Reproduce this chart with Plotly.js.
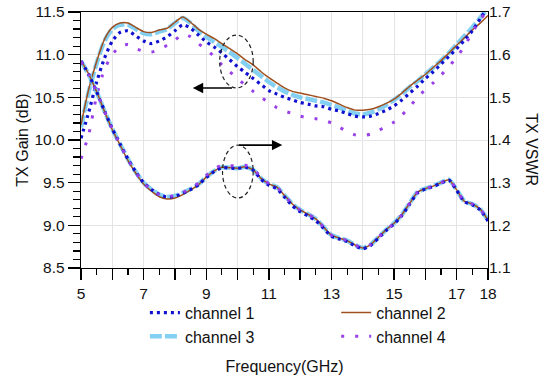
<!DOCTYPE html>
<html>
<head>
<meta charset="utf-8">
<script src="https://cdn.plot.ly/plotly-3.0.1.min.js"></script>
<style>html,body{margin:0;padding:0;background:#fff;}#chart{width:550px;height:380px;}</style>
</head>
<body>
<div id="chart"></div>
<script>
// Frequency grid (GHz)
const freq = [5,5.25,5.5,5.75,6,6.25,6.5,6.75,7,7.25,7.5,7.75,8,8.25,8.5,8.75,9,9.25,9.5,9.75,10,10.25,10.5,10.75,11,11.25,11.5,11.75,12,12.25,12.5,12.75,13,13.25,13.5,13.75,14,14.25,14.5,14.75,15,15.25,15.5,15.75,16,16.25,16.5,16.75,17,17.25,17.5,17.75,18];

// TX Gain (dB)
const gain1 = [10.02,10.33,10.68,10.96,11.16,11.26,11.28,11.22,11.16,11.13,11.16,11.21,11.28,11.35,11.31,11.23,11.15,11.09,11.02,10.94,10.86,10.79,10.72,10.65,10.58,10.54,10.50,10.47,10.44,10.42,10.40,10.39,10.36,10.34,10.31,10.28,10.27,10.28,10.31,10.35,10.40,10.47,10.55,10.63,10.72,10.80,10.89,10.98,11.07,11.17,11.28,11.42,11.56];
const gain2 = [10.18,10.60,10.92,11.18,11.32,11.37,11.37,11.32,11.27,11.26,11.29,11.31,11.38,11.44,11.38,11.30,11.24,11.19,11.13,11.07,11.01,10.94,10.88,10.80,10.73,10.67,10.61,10.57,10.55,10.53,10.51,10.49,10.46,10.42,10.38,10.35,10.35,10.36,10.39,10.43,10.48,10.55,10.63,10.70,10.77,10.85,10.93,11.02,11.11,11.20,11.29,11.37,11.46];
const gain3 = [10.15,10.57,10.90,11.16,11.30,11.35,11.35,11.30,11.25,11.24,11.27,11.30,11.37,11.43,11.37,11.28,11.21,11.15,11.09,11.03,10.96,10.89,10.82,10.75,10.68,10.62,10.57,10.53,10.50,10.48,10.46,10.44,10.41,10.38,10.34,10.31,10.30,10.32,10.36,10.41,10.47,10.54,10.62,10.69,10.77,10.85,10.93,11.02,11.12,11.22,11.32,11.43,11.55];
const gain4 = [9.78,10.07,10.52,10.83,11.00,11.10,11.12,11.07,11.04,11.03,11.06,11.11,11.17,11.24,11.21,11.13,11.06,10.98,10.88,10.80,10.72,10.64,10.57,10.50,10.44,10.38,10.34,10.31,10.28,10.26,10.25,10.23,10.20,10.15,10.10,10.06,10.05,10.07,10.11,10.16,10.21,10.29,10.39,10.50,10.59,10.67,10.76,10.86,10.97,11.10,11.26,11.41,11.53];

// TX VSWR
const vswr1 = [1.585,1.553,1.513,1.468,1.426,1.390,1.355,1.325,1.300,1.284,1.272,1.266,1.268,1.275,1.284,1.295,1.312,1.326,1.335,1.334,1.333,1.336,1.329,1.308,1.294,1.286,1.266,1.246,1.232,1.222,1.211,1.193,1.174,1.168,1.162,1.152,1.145,1.153,1.170,1.188,1.203,1.223,1.250,1.276,1.285,1.291,1.299,1.306,1.282,1.255,1.248,1.236,1.210];
const vswr2 = [1.586,1.554,1.513,1.467,1.424,1.388,1.352,1.322,1.297,1.280,1.267,1.262,1.264,1.272,1.283,1.295,1.313,1.327,1.336,1.335,1.334,1.337,1.330,1.310,1.297,1.290,1.270,1.250,1.236,1.226,1.215,1.196,1.177,1.170,1.164,1.154,1.147,1.155,1.172,1.190,1.205,1.225,1.252,1.278,1.286,1.292,1.300,1.307,1.283,1.256,1.250,1.238,1.212];
const vswr3 = [1.585,1.553,1.513,1.468,1.426,1.390,1.355,1.325,1.300,1.284,1.272,1.267,1.269,1.276,1.285,1.296,1.313,1.327,1.336,1.335,1.334,1.337,1.330,1.310,1.297,1.290,1.270,1.250,1.236,1.226,1.215,1.196,1.177,1.170,1.164,1.154,1.147,1.155,1.172,1.190,1.205,1.225,1.252,1.278,1.286,1.292,1.300,1.307,1.283,1.256,1.250,1.238,1.212];
const vswr4 = [1.584,1.552,1.512,1.467,1.425,1.389,1.354,1.324,1.299,1.283,1.272,1.267,1.270,1.277,1.287,1.299,1.317,1.332,1.341,1.340,1.339,1.341,1.333,1.312,1.298,1.290,1.270,1.250,1.236,1.226,1.215,1.196,1.177,1.170,1.164,1.154,1.147,1.155,1.172,1.190,1.205,1.225,1.252,1.278,1.286,1.292,1.300,1.307,1.283,1.256,1.250,1.238,1.212];

const channelNames = ['channel 1','channel 2','channel 3','channel 4'];
const xTickVals = [5,6,7,8,9,10,11,12,13,14,15,16,17,18];
const xTickText = ['5','','7','','9','','11','','13','','15','','17','18'];

const styles = {
  'channel 1': {color:'#1010d0', width:3.2, dash:'3px,4px'},
  'channel 2': {color:'#a0501e', width:1.5, dash:'solid'},
  'channel 3': {color:'rgba(110,200,240,0.85)', width:4.5, dash:'12px,3px'},
  'channel 4': {color:'#9a40e8', width:3, dash:'3px,11px'}
};

const gains = {'channel 1':gain1,'channel 2':gain2,'channel 3':gain3,'channel 4':gain4};
const vswrs = {'channel 1':vswr1,'channel 2':vswr2,'channel 3':vswr3,'channel 4':vswr4};

const drawOrder = ['channel 3','channel 2','channel 1','channel 4'];
const traces = [];
drawOrder.forEach(function(name){
  traces.push({x:freq, y:gains[name], type:'scatter', mode:'lines', name:name, legendgroup:name,
    line:Object.assign({shape:'spline', smoothing:0.6}, styles[name]), showlegend:true,
    legendrank: channelNames.indexOf(name)+1, xaxis:'x', yaxis:'y'});
  traces.push({x:freq, y:vswrs[name], type:'scatter', mode:'lines', name:name, legendgroup:name,
    line:Object.assign({shape:'spline', smoothing:0.6}, styles[name]), showlegend:false,
    xaxis:'x', yaxis:'y2'});
});

const font = {family:'Liberation Sans, Arial, Helvetica, sans-serif', color:'#111', size:15.5};

const layout = {
  width:550, height:380,
  margin:{l:81, r:62, t:12, b:112},
  paper_bgcolor:'#fff', plot_bgcolor:'#fff',
  font:font,
  showlegend:true,
  legend:{orientation:'h', x:0.157, xanchor:'left', y:-0.108, yanchor:'top',
    entrywidth:0.47, entrywidthmode:'fraction', font:{size:16}, traceorder:'normal',
    tracegroupgap:0, itemwidth:30, bgcolor:'rgba(0,0,0,0)'},
  xaxis:{range:[5,18], tickmode:'array', tickvals:xTickVals, ticktext:xTickText,
    ticks:'outside', ticklen:11, tickwidth:1.3, tickcolor:'#000',
    showline:true, linecolor:'#000', linewidth:1.3, mirror:true,
    showgrid:true, gridcolor:'#e4e4e4', gridwidth:1, zeroline:false,
    minor:{dtick:0.5, tick0:5, ticks:'outside', ticklen:6, tickwidth:1.2, tickcolor:'#000', showgrid:false},
    title:{text:'Frequency(GHz)', font:{size:16}, standoff:60},
    tickfont:{size:15.5}},
  yaxis:{range:[8.5,11.5], dtick:0.5, tick0:8.5, tickformat:'.1f',
    ticks:'outside', ticklen:12, tickwidth:1.3, tickcolor:'#000',
    showline:true, linecolor:'#000', linewidth:1.3, mirror:true,
    showgrid:true, gridcolor:'#e4e4e4', gridwidth:1, zeroline:false,
    minor:{dtick:0.1, ticks:'outside', ticklen:7, tickwidth:1.2, tickcolor:'#000', showgrid:false},
    title:{text:'TX Gain (dB)', font:{size:16}, standoff:1},
    tickfont:{size:15.5}},
  yaxis2:{range:[1.1,1.7], dtick:0.1, tick0:1.1, tickformat:'.1f', overlaying:'y', side:'right',
    ticks:'', showline:false, showgrid:false, zeroline:false, tickfont:{size:15.5}},
  shapes:[
    {type:'circle', xref:'x', yref:'y', x0:9.43, x1:10.5, y0:10.61, y1:11.23,
      line:{color:'#222', width:1.2, dash:'4px,3px'}},
    {type:'circle', xref:'x', yref:'y', x0:9.52, x1:10.5, y0:9.32, y1:9.94,
      line:{color:'#222', width:1.2, dash:'4px,3px'}}
  ],
  annotations:[
    {xref:'x', yref:'y', x:8.57, y:10.61, axref:'x', ayref:'y', ax:9.87, ay:10.61,
      text:'', showarrow:true, arrowhead:2, arrowsize:1.3, arrowwidth:1.6, arrowcolor:'#000'},
    {xref:'x', yref:'y', x:11.43, y:9.94, axref:'x', ayref:'y', ax:10.0, ay:9.94,
      text:'', showarrow:true, arrowhead:2, arrowsize:1.3, arrowwidth:1.6, arrowcolor:'#000'},
    {xref:'paper', yref:'paper', x:1.108, y:0.46, text:'TX VSWR', textangle:90,
      showarrow:false, font:{size:16}, xanchor:'center', yanchor:'middle'}
  ]
};

Plotly.newPlot('chart', traces, layout, {displayModeBar:false, staticPlot:true});
</script>
</body>
</html>
